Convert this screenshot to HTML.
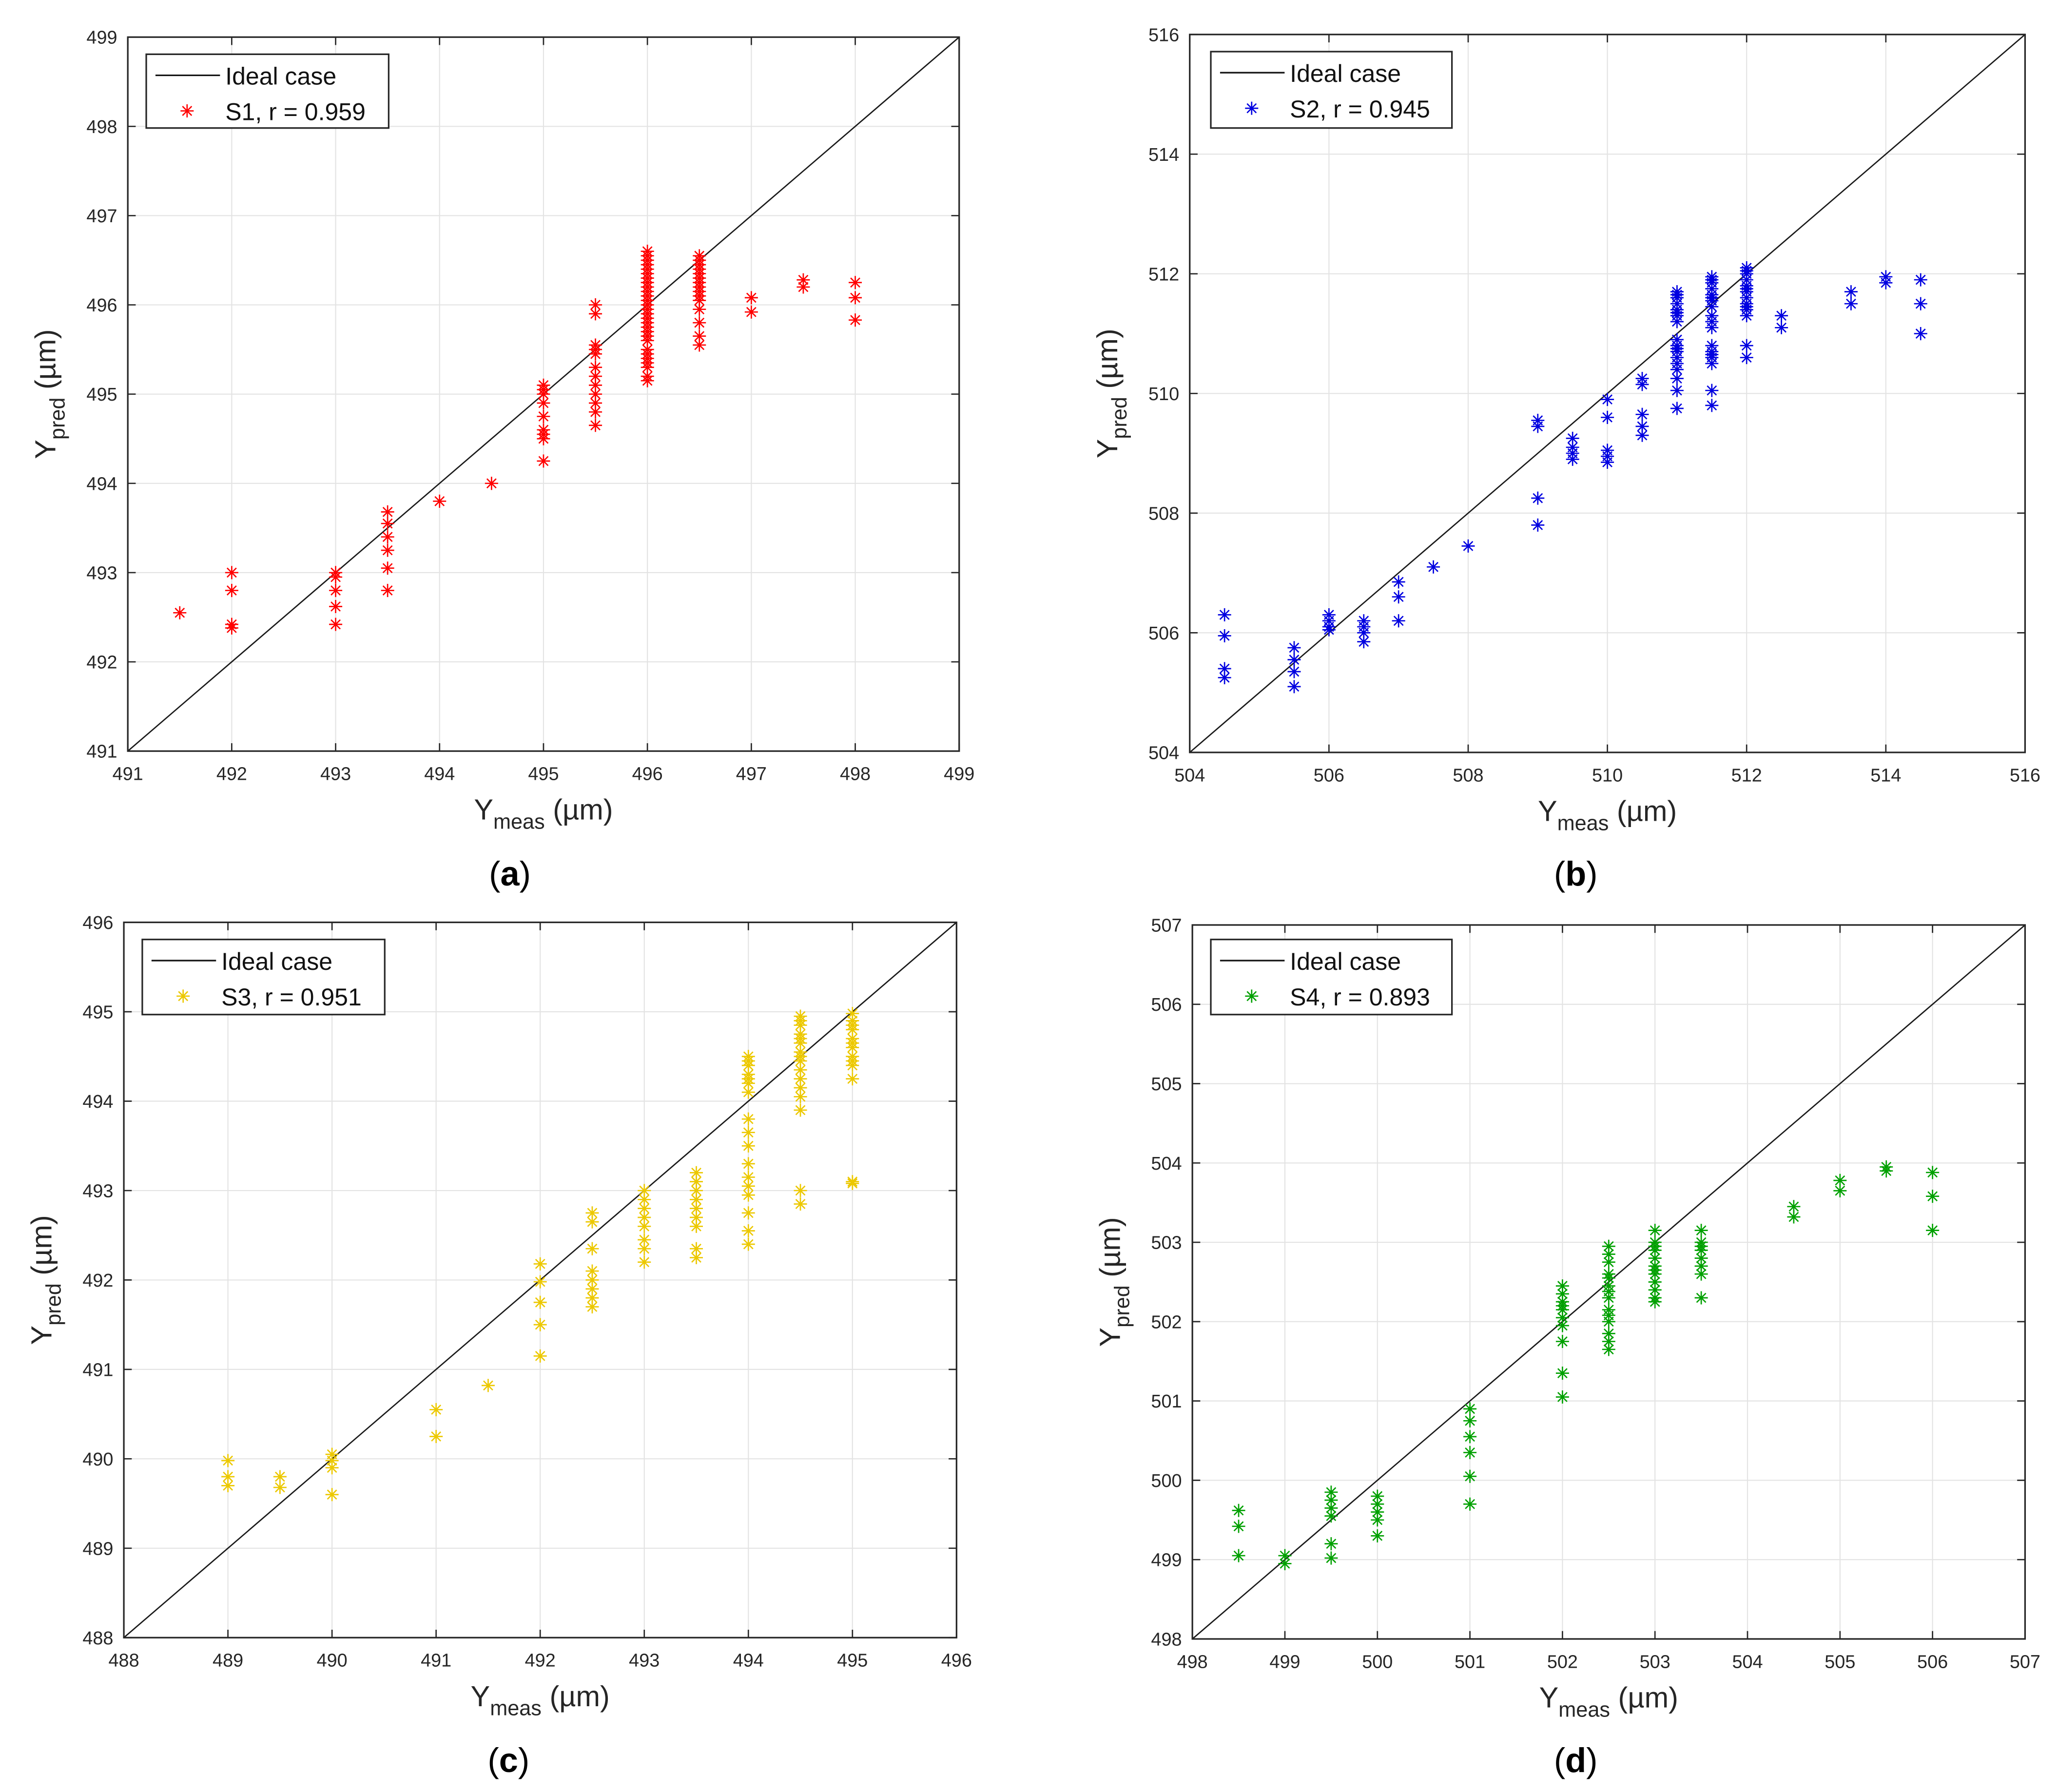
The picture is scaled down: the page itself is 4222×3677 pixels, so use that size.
<!DOCTYPE html>
<html><head><meta charset="utf-8"><style>
html,body{margin:0;padding:0;background:#fff}
svg{display:block}
text{font-family:"Liberation Sans",Arial,sans-serif}
</style></head><body>
<svg id="fig" xmlns="http://www.w3.org/2000/svg" width="4222" height="3677" viewBox="0 0 1562 1360">
<rect width="1562" height="1360" fill="#fff"/>
</svg>
<script>
// ---- Panel (a) S1 ----
const xsA=[491.5,492,492,492,492,493,493,493,493,493,493.5,493.5,493.5,493.5,493.5,493.5,494,494.5,495,495,495,495,495,495,495,495,495,495.5,495.5,495.5,495.5,495.5,495.5,495.5,495.5,495.5,495.5,495.5,495.5,496,496,496,496,496,496,496,496,496,496,496,496,496,496,496,496,496,496,496,496,496,496,496,496,496,496,496,496,496.5,496.5,496.5,496.5,496.5,496.5,496.5,496.5,496.5,496.5,496.5,496.5,496.5,496.5,496.5,497,497,497.5,497.5,498,498,498];
const ysA=[492.55,493.0,492.8,492.42,492.38,493.0,492.95,492.8,492.62,492.42,493.68,493.55,493.4,493.25,493.05,492.8,493.8,494.0,495.1,495.05,495.0,494.9,494.75,494.6,494.55,494.5,494.25,496.0,495.9,495.55,495.5,495.45,495.3,495.2,495.1,495.0,494.9,494.8,494.65,496.6,496.5,496.4,496.3,496.2,496.1,496.0,495.9,495.8,495.7,495.6,495.5,495.4,495.3,495.2,495.15,496.55,496.45,496.35,496.25,496.15,496.05,495.95,495.85,495.75,495.65,495.45,495.35,496.55,496.45,496.35,496.25,496.15,496.05,495.95,495.8,495.65,495.55,496.5,496.4,496.3,496.2,496.1,496.08,495.92,496.28,496.2,496.25,496.08,495.83];
// ---- Panel (b) S2 ----
const xsB=[504.5,504.5,504.5,504.5,505.5,505.5,505.5,505.5,506,506,506,506,506.5,506.5,506.5,506.5,507,507,507,507.5,508,509,509,509,509,509.5,509.5,509.5,509.5,510,510,510,510,510,510.5,510.5,510.5,510.5,510.5,511,511,511,511,511,511,511,511,511,511,511,511,511,511,511,511,511,511,511.5,511.5,511.5,511.5,511.5,511.5,511.5,511.5,511.5,511.5,511.5,511.5,511.5,511.5,511.5,511.5,511.5,511.5,512,512,512,512,512,512,512,512,512,512,512,512,512,512,512.5,512.5,513.5,513.5,514,514,514.5,514.5,514.5];
const ysB=[506.3,505.95,505.4,505.25,505.75,505.55,505.35,505.1,506.3,506.2,506.1,506.05,506.2,506.1,506.0,505.85,506.85,506.6,506.2,507.1,507.45,509.55,509.45,508.25,507.8,509.25,509.1,509.0,508.9,509.9,509.6,509.05,508.95,508.85,510.25,510.15,509.65,509.45,509.3,511.7,511.6,511.5,511.4,511.3,511.2,510.9,510.8,510.7,510.6,510.5,510.4,510.25,510.05,509.75,511.65,511.35,510.75,511.95,511.85,511.75,511.65,511.55,511.45,511.3,511.2,511.1,510.8,510.7,510.6,510.5,510.05,509.8,511.9,511.6,510.65,512.1,512.0,511.9,511.8,511.7,511.6,511.5,511.4,511.3,510.8,510.6,512.05,511.75,511.45,511.3,511.1,511.7,511.5,511.95,511.85,511.9,511.5,511.0];
// ---- Panel (c) S3 ----
const xsC=[489,489,489,489.5,489.5,490,490,490,490,491,491,491.5,492,492,492,492,492,492.5,492.5,492.5,492.5,492.5,492.5,492.5,492.5,493,493,493,493,493,493,493,493,493.5,493.5,493.5,493.5,493.5,493.5,493.5,493.5,493.5,494,494,494,494,494,494,494,494,494,494,494,494,494,494,494,494,494,494.5,494.5,494.5,494.5,494.5,494.5,494.5,494.5,494.5,494.5,494.5,494.5,494.5,494.5,494.5,494.5,495,495,495,495,495,495,495,495,495,495,495,495,495];
const ysC=[489.98,489.8,489.7,489.8,489.68,490.05,489.98,489.9,489.6,490.55,490.25,490.82,492.18,491.98,491.75,491.5,491.15,492.75,492.65,492.35,492.1,492.0,491.9,491.8,491.7,493.0,492.9,492.8,492.7,492.6,492.45,492.35,492.2,493.2,493.1,493.0,492.9,492.8,492.7,492.6,492.35,492.25,494.5,494.4,494.3,494.2,494.1,493.8,493.65,493.5,493.3,493.15,493.05,492.95,492.75,492.55,492.4,494.45,494.25,494.95,494.85,494.75,494.65,494.55,494.45,494.35,494.25,494.15,494.05,493.9,493.0,492.85,494.9,494.7,494.5,494.98,494.9,494.8,494.7,494.6,494.5,494.4,494.25,493.1,493.08,494.85,494.65,494.45];
// ---- Panel (d) S4 ----
const xsD=[498.5,498.5,498.5,499,499,499.5,499.5,499.5,499.5,499.5,499.5,500,500,500,500,500,501,501,501,501,501,501,502,502,502,502,502,502,502,502,502,502,502.5,502.5,502.5,502.5,502.5,502.5,502.5,502.5,502.5,502.5,502.5,502.5,502.5,502.5,503,503,503,503,503,503,503,503,503,503,503,503,503.5,503.5,503.5,503.5,503.5,503.5,503.5,503.5,504.5,504.5,505,505,505.5,505.5,506,506,506];
const ysD=[499.62,499.42,499.05,499.05,498.95,499.85,499.75,499.65,499.55,499.2,499.02,499.8,499.7,499.6,499.5,499.3,500.9,500.75,500.55,500.35,500.05,499.7,502.45,502.35,502.25,502.15,502.05,501.95,501.75,501.35,501.05,502.2,502.95,502.85,502.75,502.6,502.45,502.3,502.15,502.0,501.85,501.75,501.65,502.55,502.38,502.08,503.15,503.0,502.9,502.8,502.7,502.6,502.5,502.4,502.3,502.25,502.95,502.65,503.15,503.0,502.9,502.8,502.7,502.6,502.3,502.95,503.45,503.32,503.78,503.65,503.95,503.9,503.88,503.58,503.15];
// tick labels
const ticksA=[491,492,493,494,495,496,497,498,499];
const ticksB=[504,506,508,510,512,514,516];
const ticksC=[488,489,490,491,492,493,494,495,496];
const ticksD=[498,499,500,501,502,503,504,505,506,507];
const labels=["S1, r = 0.959","S2, r = 0.945","S3, r = 0.951","S4, r = 0.893"];
const captions=["(a)","(b)","(c)","(d)"];

const NS="http://www.w3.org/2000/svg";
const svg=document.getElementById('fig');
function mk(tag,attrs,parent){const e=document.createElementNS(NS,tag);for(const k in attrs)e.setAttribute(k,attrs[k]);(parent||svg).appendChild(e);return e;}
function star(g,cx,cy,r,col){
  const d=`M${cx-r},${cy}H${cx+r}M${cx},${cy-r}V${cy+r}M${cx-r*0.7},${cy-r*0.7}L${cx+r*0.7},${cy+r*0.7}M${cx-r*0.7},${cy+r*0.7}L${cx+r*0.7},${cy-r*0.7}`;
  return mk('path',{d:d,stroke:col,'stroke-width':1,fill:'none'},g);
}
const panels=[
 {id:'a',box:[97,28,728,570],ticks:ticksA,xs:xsA,ys:ysA,col:'#ff0000',leg:[111,41,295,97],cap:[387,667]},
 {id:'b',box:[903,26,1537,571],ticks:ticksB,xs:xsB,ys:ysB,col:'#0000e0',leg:[919,39,1102,97],cap:[1196,667]},
 {id:'c',box:[94,700,726,1243],ticks:ticksC,xs:xsC,ys:ysC,col:'#ecc800',leg:[108,713,292,770],cap:[386,1340]},
 {id:'d',box:[905,702,1537,1244],ticks:ticksD,xs:xsD,ys:ysD,col:'#00a000',leg:[919,713,1102,770],cap:[1196,1340]}
];
panels.forEach((P,i)=>{
  const g=mk('g',{});
  
  
  const [x0,y0,x1,y1]=P.box;
  const lo=P.ticks[0],hi=P.ticks[P.ticks.length-1];
  const sx=v=>x0+(v-lo)/(hi-lo)*(x1-x0);
  const sy=v=>y1-(v-lo)/(hi-lo)*(y1-y0);
  P.ticks.forEach(t=>{
    const gx=mk('line',{x1:sx(t),x2:sx(t),y1:y0,y2:y1,stroke:'#e3e3e3','stroke-width':0.8},g);
    
    
    const gy=mk('line',{x1:x0,x2:x1,y1:sy(t),y2:sy(t),stroke:'#e3e3e3','stroke-width':0.8},g);
    
    
    mk('line',{x1:sx(t),x2:sx(t),y1:y1,y2:y1-6,stroke:'#262626','stroke-width':1},g);
    mk('line',{x1:sx(t),x2:sx(t),y1:y0,y2:y0+6,stroke:'#262626','stroke-width':1},g);
    mk('line',{x1:x0,x2:x0+6,y1:sy(t),y2:sy(t),stroke:'#262626','stroke-width':1},g);
    mk('line',{x1:x1,x2:x1-6,y1:sy(t),y2:sy(t),stroke:'#262626','stroke-width':1},g);
    const tx=mk('text',{x:sx(t),y:y1+22,'font-size':14,fill:'#262626','text-anchor':'middle'},g);
    tx.textContent=t;
    
    
    const ty=mk('text',{x:x0-8,y:sy(t)+5,'font-size':14,fill:'#262626','text-anchor':'end'},g);
    ty.textContent=t;
    
    
  });
  const il=mk('line',{x1:sx(lo),y1:sy(lo),x2:sx(hi),y2:sy(hi),stroke:'#1a1a1a','stroke-width':1},g);
  
  
  const pg=mk('g',{},g);
  
  
  for(let k=0;k<P.xs.length;k++){
    const m=star(pg,sx(P.xs[k]),sy(P.ys[k]),5,P.col);
    
    
  }
  const fr=mk('rect',{x:x0,y:y0,width:x1-x0,height:y1-y0,fill:'none',stroke:'#262626','stroke-width':1.2},g);
  
  
  const [lx0,ly0,lx1,ly1]=P.leg;
  const lg=mk('g',{},g);
  
  
  mk('rect',{x:lx0,y:ly0,width:lx1-lx0,height:ly1-ly0,fill:'#fff',stroke:'#262626','stroke-width':1.2},lg);
  mk('line',{x1:lx0+7,x2:lx0+56,y1:ly0+16,y2:ly0+16,stroke:'#111','stroke-width':1.2},lg);
  const t1=mk('text',{x:lx0+60,y:ly0+23,'font-size':18.5,fill:'#111'},lg);
  t1.textContent='Ideal case';
  
  
  star(lg,lx0+31,ly0+43,5,P.col);
  const t2=mk('text',{x:lx0+60,y:ly0+50,'font-size':18.5,fill:'#111'},lg);
  t2.textContent=labels[i];
  
  
  const cx=(x0+x1)/2;
  const xl=mk('text',{x:cx,y:y1+52,'font-size':22,fill:'#262626','text-anchor':'middle'},g);
  xl.innerHTML='Y<tspan font-size="16" dy="7">meas</tspan><tspan dy="-7"> (µm)</tspan>';
  
  
  const cy=(y0+y1)/2;
  const yl=mk('text',{x:0,y:0,'font-size':22,fill:'#262626','text-anchor':'middle',transform:`translate(${x0-55},${cy}) rotate(-90)`},g);
  yl.innerHTML='Y<tspan font-size="16" dy="7">pred</tspan><tspan dy="-7"> (µm)</tspan>';
  
  
  const cp=mk('text',{x:P.cap[0],y:P.cap[1]+5,'font-size':26,fill:'#000','text-anchor':'middle','font-family':'"Liberation Serif",serif'},g);
  cp.innerHTML='(<tspan font-weight="bold">'+captions[i].slice(1,2)+'</tspan>)';
  
  
});
</script>
</body></html>
